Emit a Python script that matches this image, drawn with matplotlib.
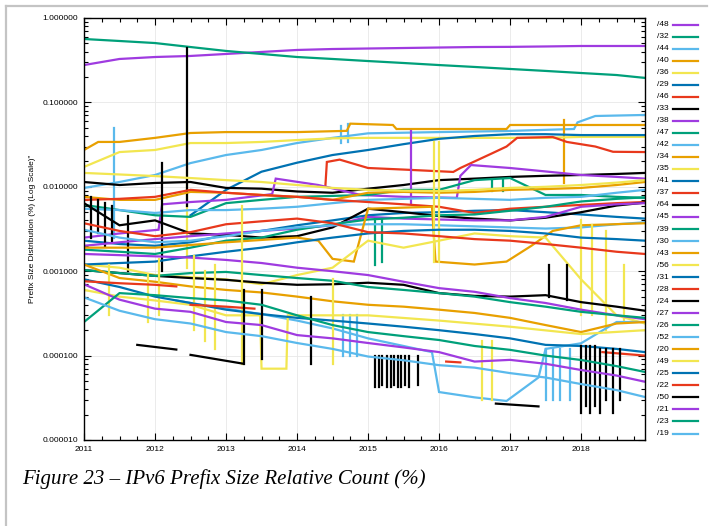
import numpy as np
import matplotlib
matplotlib.use("Agg")
import matplotlib.pyplot as plt
from matplotlib.lines import Line2D
from matplotlib.ticker import FixedLocator, FuncFormatter, LogLocator, MultipleLocator

plt.rcParams['font.family'] = ['Liberation Sans', 'DejaVu Sans']

N = None

# half-year grid used by most series
YEARS = [2011.0, 2011.5, 2012.0, 2012.5, 2013.0, 2013.5, 2014.0, 2014.5, 2015.0,
         2015.5, 2016.0, 2016.5, 2017.0, 2017.5, 2018.0, 2018.5, 2018.9]

# values in %
p48 = [0.277, 0.327, 0.345, 0.355, 0.375, 0.396, 0.418, 0.429, 0.435, 0.441, 0.447, 0.453, 0.455, 0.460, 0.466, 0.466, 0.466]
p32 = [0.564, 0.534, 0.505, 0.453, 0.407, 0.375, 0.345, 0.327, 0.309, 0.293, 0.277, 0.263, 0.249, 0.236, 0.223, 0.211, 0.195]
x44 = [2011, 2011.5, 2012, 2012.5, 2013, 2013.5, 2014, 2014.5, 2015, 2016, 2016.95, 2017.9, 2017.95, 2018.2, 2018.9]
p44 = [0.0097, 0.0114, 0.0138, 0.0191, 0.0238, 0.0273, 0.033, 0.038, 0.043, 0.0445, 0.0458, 0.0484, 0.058, 0.069, 0.071]
x40 = [2011, 2011.2, 2011.5, 2012, 2012.5, 2013, 2014, 2014.7, 2014.75, 2015.35, 2015.4, 2016.95, 2017.0, 2018.9]
p40 = [0.0273, 0.034, 0.034, 0.038, 0.0434, 0.0445, 0.0445, 0.046, 0.056, 0.054, 0.0484, 0.0484, 0.054, 0.054]
p36 = [0.0172, 0.0258, 0.0273, 0.033, 0.033, 0.034, 0.0358, 0.0375, 0.038, 0.038, 0.038, 0.038, 0.038, 0.038, 0.039, 0.039, 0.039]
p29 = [N, N, N, 0.0046, 0.0092, 0.0151, 0.0193, 0.0238, 0.0273, 0.032, 0.037, 0.040, 0.042, 0.042, 0.041, 0.041, 0.041]
x46 = [2014.4, 2014.42, 2014.6, 2015.0, 2015.5, 2016.2, 2016.3, 2016.75, 2016.95, 2017.1, 2017.6, 2017.8, 2018.2, 2018.45, 2018.9]
p46 = [0.0105, 0.0197, 0.021, 0.0167, 0.016, 0.015, 0.0167, 0.025, 0.030, 0.038, 0.0389, 0.034, 0.030, 0.026, 0.0258]
p33 = [0.0114, 0.0105, 0.0111, 0.0114, 0.0097, 0.0095, 0.0088, 0.0085, 0.0095, 0.0105, 0.012, 0.0125, 0.0131, 0.0135, 0.0138, 0.0142, 0.0146]
x38 = [2011, 2011.5, 2012.05, 2012.1, 2012.5, 2013, 2013.65, 2013.7, 2014.3, 2014.9, 2015.5, 2016.25, 2016.3, 2016.45, 2017, 2017.5, 2018, 2018.5, 2018.9]
p38 = [0.0025, 0.0028, 0.0031, 0.0062, 0.0066, 0.007, 0.0082, 0.0125, 0.0105, 0.008, 0.0076, 0.0074, 0.0135, 0.0181, 0.0167, 0.0152, 0.0138, 0.0131, 0.0125]
p47 = [0.0061, 0.0053, 0.0046, 0.0044, 0.0064, 0.0070, 0.0076, 0.0078, 0.0080, 0.0092, 0.0092, 0.0120, 0.0127, 0.0080, 0.0080, 0.0076, 0.0074]
p42 = [0.0055, 0.0053, 0.0049, 0.0053, 0.0053, 0.0055, 0.0058, 0.0064, 0.0070, 0.0072, 0.0074, 0.0072, 0.0070, 0.0074, 0.0076, 0.0085, 0.0092]
p34 = [0.0076, 0.0070, 0.0070, 0.0087, 0.0085, 0.0080, 0.0076, 0.0070, 0.0085, 0.0087, 0.0085, 0.0087, 0.0092, 0.0094, 0.0097, 0.0105, 0.0114]
p35 = [0.0146, 0.0140, 0.0134, 0.0127, 0.0120, 0.0114, 0.0105, 0.0097, 0.0092, 0.0090, 0.0089, 0.0092, 0.0097, 0.0100, 0.0105, 0.0112, 0.0120]
p41 = [0.0023, 0.0021, 0.0020, 0.0022, 0.0027, 0.0030, 0.0035, 0.0040, 0.0046, 0.0049, 0.0050, 0.0052, 0.0053, 0.0050, 0.0047, 0.0044, 0.0042]
p37 = [0.0070, 0.0072, 0.0076, 0.0092, 0.0085, 0.0080, 0.0076, 0.0070, 0.0066, 0.0062, 0.0058, 0.0049, 0.0055, 0.0058, 0.0061, 0.0064, 0.0066]
p64 = [0.0064, 0.0035, 0.0040, 0.0028, 0.0027, 0.0025, 0.0026, 0.0033, 0.0055, 0.0050, 0.0045, 0.0042, 0.0040, 0.0043, 0.0050, 0.0060, 0.0065]
p45 = [0.0020, 0.0022, 0.0024, 0.0026, 0.0028, 0.0030, 0.0032, 0.0035, 0.0044, 0.0042, 0.0041, 0.0040, 0.0040, 0.0044, 0.0058, 0.0062, 0.0064]
p39 = [0.0018, 0.0017, 0.0016, 0.0019, 0.0023, 0.0025, 0.0031, 0.0036, 0.0041, 0.0043, 0.0046, 0.0047, 0.0052, 0.0058, 0.0067, 0.0072, 0.0075]
p30 = [0.0031, 0.0025, 0.0022, 0.0023, 0.0026, 0.0030, 0.0033, 0.0035, 0.0036, 0.0036, 0.0035, 0.0034, 0.0033, 0.0032, 0.0033, 0.0036, 0.0038]
x43 = [2011, 2012, 2013, 2014, 2014.3, 2014.5, 2014.8, 2015.0, 2015.9, 2015.95, 2016.5, 2016.95, 2017.3, 2017.6, 2018.0, 2018.9]
p43 = [0.0019, 0.0019, 0.0022, 0.0025, 0.0023, 0.0014, 0.0013, 0.0055, 0.0058, 0.0013, 0.0012, 0.0013, 0.0020, 0.0030, 0.0035, 0.0037]
p56 = [0.0012, 0.0011, 0.0009, 0.00085, 0.0008, 0.0007, 0.0009, 0.0011, 0.0023, 0.0019, 0.0023, 0.0028, 0.0026, 0.0025, 0.0008, 0.0003, 0.00024]
p31 = [0.0012, 0.00125, 0.0013, 0.0015, 0.0017, 0.0019, 0.0022, 0.0025, 0.0028, 0.0030, 0.0031, 0.0031, 0.0030, 0.0028, 0.0025, 0.0024, 0.0023]
p28 = [0.0037, 0.0030, 0.0026, 0.0029, 0.0036, 0.0039, 0.0042, 0.0037, 0.0029, 0.0028, 0.0026, 0.0024, 0.0023, 0.0021, 0.0019, 0.0017, 0.0016]
p24 = [0.00103, 0.00095, 0.00088, 0.00083, 0.00079, 0.00073, 0.00069, 0.00070, 0.00073, 0.00069, 0.00055, 0.00051, 0.00050, 0.00052, 0.00043, 0.00038, 0.00034]
p27 = [0.0016, 0.00155, 0.0015, 0.00145, 0.00136, 0.00125, 0.0011, 0.0010, 0.0009, 0.00075, 0.00063, 0.00057, 0.00048, 0.00042, 0.00035, 0.0003, 0.00027]
p26 = [0.00103, 0.00095, 0.00088, 0.00095, 0.00098, 0.0009, 0.00083, 0.00077, 0.00065, 0.0006, 0.00055, 0.0005, 0.00043, 0.00038, 0.00033, 0.0003, 0.00028]
x52 = [2012.3, 2012.5, 2013.0, 2013.5, 2014.0, 2014.5, 2015.0, 2015.5, 2015.9, 2016.0, 2016.5, 2016.95, 2017.4, 2017.5, 2018.0, 2018.5, 2018.9]
p52 = [0.00045, 0.00042, 0.00036, 0.00031, 0.00026, 0.00021, 0.00016, 0.00013, 0.00011, 0.000037, 0.000032, 0.000029, 0.000055, 0.00012, 0.00014, 0.00025, 0.00025]
p20 = [0.0012, 0.00083, 0.00075, 0.00066, 0.0006, 0.00056, 0.0005, 0.00044, 0.0004, 0.00038, 0.00035, 0.00032, 0.00028, 0.00023, 0.00019, 0.00024, 0.00025]
x49 = [2011, 2011.5, 2012, 2012.5, 2013, 2013.48, 2013.5, 2013.85, 2013.87, 2014.5, 2015, 2016, 2017, 2018, 2018.9]
p49 = [0.0006, 0.0005, 0.00045, 0.0004, 0.0003, 0.0003, 0.00007, 0.00007, 0.0003, 0.0003, 0.0003, 0.00026, 0.00022, 0.00018, 0.0002]
p25 = [0.0008, 0.00065, 0.0005, 0.00042, 0.00035, 0.00031, 0.00028, 0.00026, 0.00024, 0.00022, 0.0002, 0.00018, 0.00016, 0.000134, 0.00013, 0.00012, 0.00011]
x22 = [2011.0, 2011.5, 2012.0, 2012.3, N, 2012.5, 2013.0, 2013.4, N, 2016.1, 2016.3, N, 2018.3, 2018.9]
p22 = [0.00076, 0.00072, 0.00069, 0.00066, N, 0.00040, 0.00038, 0.00036, N, 0.000085, 0.000083, N, 0.000110, 0.000100]
x50 = [2011.75, 2012.3, N, 2012.5, 2013.25, N, 2016.8, 2017.4]
p50 = [0.000134, 0.000118, N, 0.000102, 0.00008, N, 0.000027, 0.000025]
p21 = [0.0007, 0.00046, 0.00036, 0.00033, 0.00025, 0.00023, 0.000175, 0.00016, 0.000141, 0.000125, 0.00011, 0.000085, 0.000089, 0.00008, 0.0000675, 0.000058, 0.000049]
p23 = [0.00025, 0.00055, 0.00052, 0.00048, 0.00045, 0.0004, 0.0003, 0.00023, 0.00019, 0.00017, 0.000153, 0.00013, 0.000117, 0.0001, 0.0000887, 0.000075, 0.000064]
p19 = [0.00049, 0.00034, 0.00027, 0.00024, 0.00019, 0.00017, 0.000141, 0.00012, 0.0000975, 0.000088, 0.000077, 0.000072, 0.000062, 0.000055, 0.000046, 0.000039, 0.0000323]

# vertical jumps in the data: (prefix, year, low, high)
spikes = [
    ("/33", 2012.45, 0.006, 0.44),
    ("/36", 2012.45, 0.0011, 0.06),
    ("/44", 2011.42, 0.0025, 0.05),
    ("/44", 2014.62, 0.033, 0.052),
    ("/44", 2014.72, 0.034, 0.056),
    ("/38", 2015.6, 0.0065, 0.046),
    ("/56", 2015.93, 0.0013, 0.034),
    ("/56", 2016.0, 0.0013, 0.034),
    ("/40", 2017.76, 0.011, 0.062),
    ("/64", 2011.1, 0.0025, 0.0075),
    ("/64", 2011.2, 0.0028, 0.007),
    ("/64", 2011.3, 0.002, 0.0065),
    ("/64", 2011.4, 0.0022, 0.006),
    ("/64", 2011.62, 0.001, 0.0045),
    ("/64", 2012.1, 0.001, 0.019),
    ("/24", 2017.55, 0.0005, 0.0012),
    ("/24", 2017.8, 0.00045, 0.0012),
    ("/50", 2013.25, 0.00008, 0.0006),
    ("/50", 2013.5, 0.00009, 0.0006),
    ("/50", 2014.2, 0.00008, 0.0005),
    ("/50", 2015.1, 0.000042, 0.0001),
    ("/50", 2015.15, 0.000042, 0.0001),
    ("/50", 2015.2, 0.000045, 0.0001),
    ("/50", 2015.27, 0.000042, 0.0001),
    ("/50", 2015.32, 0.000042, 0.0001),
    ("/50", 2015.37, 0.000045, 0.0001),
    ("/50", 2015.42, 0.000042, 0.0001),
    ("/50", 2015.47, 0.000042, 0.0001),
    ("/50", 2015.52, 0.000045, 0.0001),
    ("/50", 2015.58, 0.000042, 0.0001),
    ("/50", 2015.7, 0.000045, 0.0001),
    ("/50", 2018.0, 0.000021, 0.00013),
    ("/50", 2018.07, 0.000025, 0.00013),
    ("/50", 2018.13, 0.000021, 0.00013),
    ("/50", 2018.2, 0.000025, 0.00013),
    ("/50", 2018.27, 0.000021, 0.00012),
    ("/50", 2018.35, 0.00003, 0.00012),
    ("/50", 2018.45, 0.000021, 0.00012),
    ("/50", 2018.55, 0.00003, 0.00012),
    ("/52", 2014.65, 0.0001, 0.0003),
    ("/52", 2014.75, 0.0001, 0.0003),
    ("/52", 2014.85, 0.0001, 0.0003),
    ("/52", 2017.5, 0.00003, 0.00012),
    ("/52", 2017.6, 0.00003, 0.00012),
    ("/52", 2017.7, 0.00003, 0.00012),
    ("/52", 2017.85, 0.00003, 0.00012),
    ("/49", 2011.35, 0.0003, 0.0012),
    ("/49", 2011.9, 0.00025, 0.0009),
    ("/49", 2012.05, 0.0003, 0.0014),
    ("/49", 2012.55, 0.0002, 0.0015),
    ("/49", 2012.7, 0.00015, 0.001),
    ("/49", 2012.85, 0.00012, 0.0012),
    ("/49", 2013.22, 0.00008, 0.006),
    ("/49", 2014.5, 0.00008, 0.0008),
    ("/49", 2016.6, 0.00003, 0.00015),
    ("/49", 2016.75, 0.00003, 0.00015),
    ("/56", 2018.0, 0.0003, 0.004),
    ("/56", 2018.15, 0.0003, 0.0035),
    ("/56", 2018.35, 0.0002, 0.003),
    ("/56", 2018.6, 0.00025, 0.0012),
    ("/47", 2016.75, 0.009, 0.012),
    ("/47", 2016.9, 0.009, 0.0125),
    ("/39", 2015.1, 0.0012, 0.0041),
    ("/39", 2015.2, 0.0013, 0.0042),
]

series = [
    ("/48", YEARS, p48), ("/32", YEARS, p32), ("/44", x44, p44), ("/40", x40, p40),
    ("/36", YEARS, p36), ("/29", YEARS, p29), ("/46", x46, p46), ("/33", YEARS, p33),
    ("/38", x38, p38), ("/47", YEARS, p47), ("/42", YEARS, p42), ("/34", YEARS, p34),
    ("/35", YEARS, p35), ("/41", YEARS, p41), ("/37", YEARS, p37), ("/64", YEARS, p64),
    ("/45", YEARS, p45), ("/39", YEARS, p39), ("/30", YEARS, p30), ("/43", x43, p43),
    ("/56", YEARS, p56), ("/31", YEARS, p31), ("/28", YEARS, p28), ("/24", YEARS, p24),
    ("/27", YEARS, p27), ("/26", YEARS, p26), ("/52", x52, p52), ("/20", YEARS, p20),
    ("/49", x49, p49), ("/25", YEARS, p25), ("/22", x22, p22), ("/50", x50, p50),
    ("/21", YEARS, p21), ("/23", YEARS, p23), ("/19", YEARS, p19),
]

palette = ['#9f3be0', '#00a07a', '#5ab9ec', '#e8a000', '#f2e650', '#0072b2', '#e8381c', '#000000']
colors = {lab: palette[i % 8] for i, (lab, _, _) in enumerate(series)}

fig = plt.figure(figsize=(7.10, 5.26), dpi=100)
ax = fig.add_axes([84/710, 1-440/526, 561/710, 422/526])

LW = 1.6
for lab, xs, ys in series:
    ax.plot(np.array(xs, dtype=float), np.array(ys, dtype=float),
            color=colors[lab], lw=LW, solid_joinstyle='miter')
    for s_lab, yr, lo, hi in spikes:
        if s_lab == lab:
            ax.plot([yr, yr], [lo, hi], color=colors[lab], lw=LW)

ax.set_yscale('log')
ax.set_ylim(1e-5, 1.0)
ax.set_xlim(2011, 2018.9)
ax.xaxis.set_major_locator(FixedLocator(range(2011, 2019)))
ax.xaxis.set_minor_locator(MultipleLocator(0.25))
ax.xaxis.set_major_formatter(FuncFormatter(lambda v, p: f"{int(round(v))}"))
ax.yaxis.set_major_locator(LogLocator(base=10, numticks=10))
ax.yaxis.set_minor_locator(LogLocator(base=10, subs=np.arange(2, 10), numticks=20))
ax.yaxis.set_major_formatter(FuncFormatter(lambda v, p: f"{v:.6f}"))
ax.yaxis.set_minor_formatter(FuncFormatter(lambda v, p: ""))
ax.tick_params(which='both', direction='in', top=True, right=True, labelsize=6, width=0.8)
ax.tick_params(which='major', length=5, pad=4)
ax.tick_params(which='minor', length=3)
ax.grid(True, which='major', color='#e8e8e8', lw=0.6)
ax.set_axisbelow(True)
for sp in ax.spines.values():
    sp.set_linewidth(1.0)

ax.set_ylabel('Prefix Size Distribution (%) (Log Scale)"', fontsize=6)
ax.yaxis.set_label_coords(-0.086, 0.5)

# key, drawn at the right of the plot
for i, (lab, _, _) in enumerate(series):
    y = 1 - (24.5 + i * 12.03) / 526
    fig.text(669/710, y, lab, ha='right', va='center', fontsize=6)
    fig.add_artist(Line2D([673/710, 698/710], [y, y], transform=fig.transFigure,
                          color=colors[lab], lw=LW))

# grey frame of the page
fig.add_artist(Line2D([6/710, 707/710], [1-6/526, 1-6/526], transform=fig.transFigure,
                      color='#c4c4c4', lw=1.6))
fig.add_artist(Line2D([6/710, 6/710], [0, 1-6/526], transform=fig.transFigure,
                      color='#c4c4c4', lw=1.6))

fig.text(22/710, 1-479/526, 'Figure 23 – IPv6 Prefix Size Relative Count (%)',
         family='Liberation Serif', style='italic', fontsize=15, va='center', ha='left')

fig.savefig('out.png', dpi=100)
